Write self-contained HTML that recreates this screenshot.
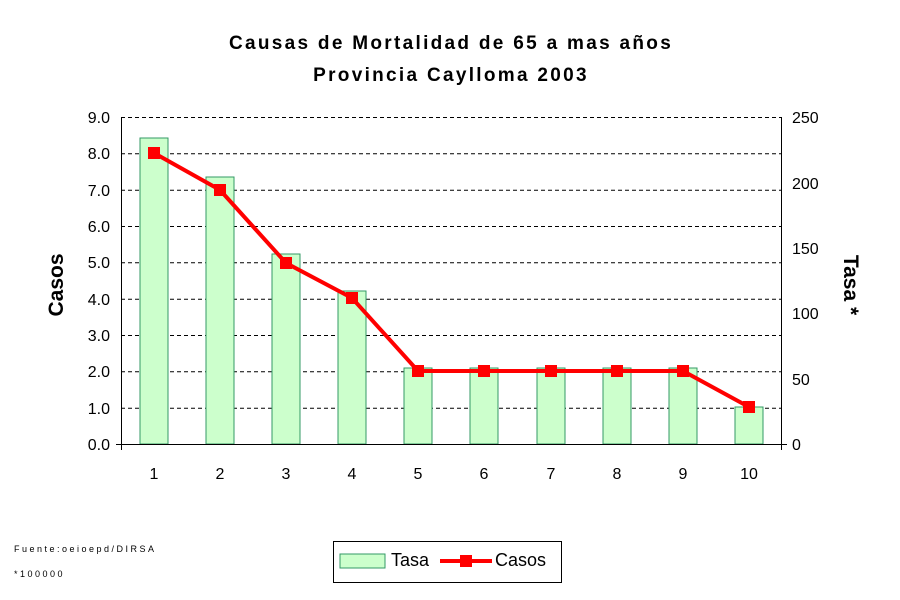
<!DOCTYPE html><html><head><style>body{margin:0;background:#fff}svg{display:block}text{font-family:"Liberation Sans",Arial,sans-serif}</style></head><body>
<svg width="900" height="600" xmlns="http://www.w3.org/2000/svg">
<text x="451" y="49" font-size="19" font-weight="bold" text-anchor="middle" letter-spacing="2.3">Causas de Mortalidad de 65 a mas años</text>
<text x="451" y="81" font-size="19" font-weight="bold" text-anchor="middle" letter-spacing="2.3">Provincia Caylloma 2003</text>
<g stroke="#000" stroke-dasharray="4,3" stroke-width="1">
<line x1="121" x2="782" y1="117.5" y2="117.5"/><line x1="121" x2="782" y1="153.8" y2="153.8"/><line x1="121" x2="782" y1="190.2" y2="190.2"/><line x1="121" x2="782" y1="226.5" y2="226.5"/><line x1="121" x2="782" y1="262.8" y2="262.8"/><line x1="121" x2="782" y1="299.2" y2="299.2"/><line x1="121" x2="782" y1="335.5" y2="335.5"/><line x1="121" x2="782" y1="371.8" y2="371.8"/><line x1="121" x2="782" y1="408.2" y2="408.2"/>
</g>
<g fill="#ccffcc" stroke="#339966" stroke-width="1">
<rect x="140" y="138" width="28" height="306"/><rect x="206" y="177" width="28" height="267"/><rect x="272" y="254" width="28" height="190"/><rect x="338" y="291" width="28" height="153"/><rect x="404" y="368" width="28" height="76"/><rect x="470" y="368" width="28" height="76"/><rect x="537" y="368" width="28" height="76"/><rect x="603" y="368" width="28" height="76"/><rect x="669" y="368" width="28" height="76"/><rect x="735" y="407" width="28" height="37"/>
</g>
<g stroke="#000" stroke-width="1">
<line x1="121.5" y1="117" x2="121.5" y2="450"/><line x1="781.5" y1="117" x2="781.5" y2="450"/><line x1="116" y1="444.5" x2="787" y2="444.5"/>
</g>
<polyline fill="none" stroke="#f00" stroke-width="4" points="154,153 220,190 286,263 352,298 418,371 484,371 551,371 617,371 683,371 749,407"/>
<g fill="#f00"><rect x="148" y="147" width="12" height="12"/><rect x="214" y="184" width="12" height="12"/><rect x="280" y="257" width="12" height="12"/><rect x="346" y="292" width="12" height="12"/><rect x="412" y="365" width="12" height="12"/><rect x="478" y="365" width="12" height="12"/><rect x="545" y="365" width="12" height="12"/><rect x="611" y="365" width="12" height="12"/><rect x="677" y="365" width="12" height="12"/><rect x="743" y="401" width="12" height="12"/></g>
<g font-size="16" text-anchor="end">
<text x="110" y="123">9.0</text><text x="110" y="159">8.0</text><text x="110" y="196">7.0</text><text x="110" y="232">6.0</text><text x="110" y="268">5.0</text><text x="110" y="305">4.0</text><text x="110" y="341">3.0</text><text x="110" y="377">2.0</text><text x="110" y="414">1.0</text><text x="110" y="450">0.0</text>
</g>
<g font-size="16">
<text x="792" y="123">250</text><text x="792" y="189">200</text><text x="792" y="254">150</text><text x="792" y="319">100</text><text x="792" y="385">50</text><text x="792" y="450">0</text>
</g>
<g font-size="16" text-anchor="middle">
<text x="154" y="479">1</text><text x="220" y="479">2</text><text x="286" y="479">3</text><text x="352" y="479">4</text><text x="418" y="479">5</text><text x="484" y="479">6</text><text x="551" y="479">7</text><text x="617" y="479">8</text><text x="683" y="479">9</text><text x="749" y="479">10</text>
</g>
<text transform="translate(63,285) rotate(-90)" font-size="21" font-weight="bold" text-anchor="middle">Casos</text>
<text transform="translate(844,285) rotate(90)" font-size="21" font-weight="bold" text-anchor="middle">Tasa *</text>
<text x="14" y="552" font-size="9" letter-spacing="2.5">Fuente:oeioepd/DIRSA</text>
<text x="14" y="577" font-size="9" letter-spacing="2.5">*100000</text>
<rect x="333.5" y="541.5" width="228" height="41" fill="#fff" stroke="#000"/>
<rect x="340" y="554" width="45" height="14" fill="#ccffcc" stroke="#339966"/>
<text x="391" y="566" font-size="18">Tasa</text>
<line x1="440" y1="561" x2="492" y2="561" stroke="#f00" stroke-width="4"/>
<rect x="460" y="555" width="12" height="12" fill="#f00"/>
<text x="495" y="566" font-size="18">Casos</text>
</svg></body></html>
